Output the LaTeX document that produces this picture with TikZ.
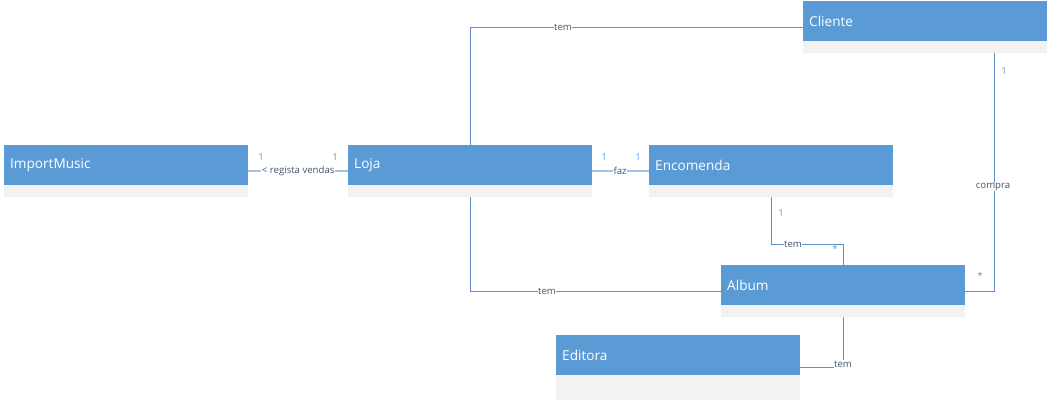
\documentclass[tikz,border=0pt]{standalone}
\usepackage{fontspec}
\setmainfont{Open Sans}
\usetikzlibrary{calc}
\definecolor{hdr}{HTML}{5B9BD5}
\definecolor{cmp}{HTML}{F2F2F2}
\definecolor{wire}{HTML}{5E8FCB}
\definecolor{wirelight}{HTML}{9DC3E6}
\definecolor{lbl}{HTML}{44546A}
\definecolor{mult}{HTML}{5B9BD5}

% class box: grey body covering the whole class, blue title bar on top
\newcommand{\umlclass}[6]{%
  \node[classbox, minimum height=#5, anchor=north west] (#1) at (#2,#3) {};
  \node[classhead, anchor=north west] (#1-h) at (#1.north west) {#6};
}

\begin{document}
\begin{tikzpicture}[x=1pt,y=-1pt,
  classbox/.style={rectangle, fill=cmp, minimum width=244pt, inner sep=0pt},
  classhead/.style={rectangle, fill=hdr, text=white, font=\fontsize{13.6}{15}\selectfont,
    minimum height=40pt, inner xsep=6pt, inner ysep=0pt, text width=232pt, align=left},
  assoc/.style={draw=wire, line width=0.9pt},
  assoclight/.style={draw=wirelight, line width=1.6pt},
  rolename/.style={fill=white, text=lbl, font=\fontsize{9.6}{10}\selectfont, inner sep=0.6pt},
  multi/.style={text=mult, font=\fontsize{9.6}{10}\selectfont, inner sep=0pt}]
\useasboundingbox (0,0) rectangle (1048,401);

\umlclass{importmusic}{4}{145}{244}{52}{ImportMusic}
\umlclass{loja}{348}{145}{244}{52}{Loja}
\umlclass{encomenda}{649}{145}{244}{52}{Encomenda}
\umlclass{cliente}{803}{1}{244}{52}{Cliente}
\umlclass{album}{721}{265}{244}{52}{Album}
\umlclass{editora}{556}{335}{244}{65}{Editora}

% ImportMusic -- Loja
\draw[assoclight] (importmusic.east) -- node[rolename, pos=0.5] (lregista) {< regista vendas} (loja.west);
\node[multi] (m1) at (261,157) {1};
\node[multi] (m2) at (335,157) {1};

% Loja -- Encomenda
\draw[assoclight] (loja.east) -- node[rolename, pos=0.49] (lfaz) {faz} (encomenda.west);
\node[multi] (m3) at (604,157) {1};
\node[multi] (m4) at (638,157) {1};

% Loja -- Cliente
\draw[assoc] (loja.north) |- (cliente.west);
\node[rolename] (ltem1) at (563,27) {tem};

% Loja -- Album
\draw[assoc] (loja.south) |- (album.west);
\node[rolename] (ltem2) at (547,291) {tem};

% Encomenda -- Album
\coordinate (ebend) at ($(encomenda.south)+(0,47)$);
\draw[assoc] (encomenda.south) -- (ebend) -| (album.north);
\node[rolename] (ltem3) at (793,244) {tem};
\node[multi] (m5) at (781,213) {1};
\node[multi] (m6) at (835,249) {*};

% Cliente -- Album
\coordinate (cdrop) at ($(cliente.south)+(69,0)$);
\draw[assoc] (cdrop) |- (album.east);
\node[rolename] (lcompra) at (993,187) {compra};
\node[multi] (m7) at (1004,71) {1};
\node[multi] (m8) at (980,276) {*};

% Album -- Editora
\draw[assoc] (album.south) |- (editora.east);
\node[rolename] (ltem4) at (843,364) {tem};
\end{tikzpicture}
\end{document}
